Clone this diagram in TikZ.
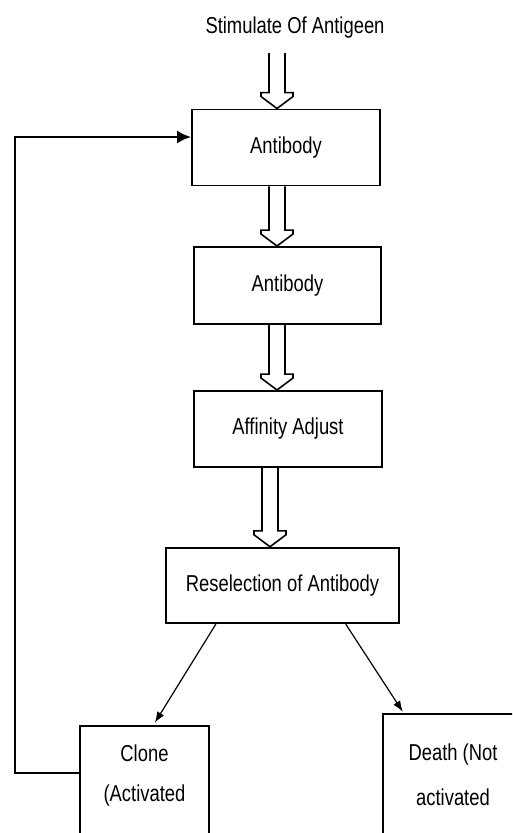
\documentclass[tikz,border=0pt]{standalone}
\usepackage{fontspec}
\setmainfont{Liberation Sans}[FakeStretch=0.8]
\usetikzlibrary{calc,arrows.meta}
\newcommand\hollowarr[3]{%
  \draw[hollow] ($(#1 -| #3)+(-8,0)$) -- ($(#2 -| #3)+(-8,-16)$) -- ($(#2 -| #3)+(-16,-16)$)
    -- ($(#2 -| #3)+(-16,-12)$) -- (#2 -| #3) -- ($(#2 -| #3)+(16,-12)$)
    -- ($(#2 -| #3)+(16,-16)$) -- ($(#2 -| #3)+(8,-16)$) -- ($(#1 -| #3)+(8,0)$);}
\begin{document}
\begin{tikzpicture}[x=1pt,y=-1pt,
  lbl/.style={font=\fontsize{23}{26}\selectfont, inner sep=0pt},
  box/.style={lbl, draw, line width=1.9pt, minimum width=188pt, minimum height=76pt},
  hollow/.style={line width=1.6pt, line join=miter},
  link/.style={line width=1.2pt, -{Latex[length=11pt,width=8pt]}},
  loopline/.style={line width=2.2pt, -{Latex[length=14pt,width=13pt]}},
  side/.style={line width=1.9pt}]
\useasboundingbox (0,0) rectangle (512,833);
\clip (0,0) rectangle (512,833);
\coordinate (ax) at (277,0);
\coordinate (bx) at (270,0);
\node[lbl] (title) at (295,28) {Stimulate Of Antigeen};
\coordinate (s0) at (277,53);
\node[box] (b1) at (286,147.5) {Antibody};
\node[box, minimum width=187pt, minimum height=77pt] (b2) at (287.5,285.5) {Antibody};
\node[box] (b3) at (288,429) {Affinity Adjust};
\node[box, minimum width=233pt, minimum height=75pt, line width=2.4pt] (b4) at (282.5,585.5) {Reselection of Antibody};
\node[lbl, minimum width=129pt, minimum height=100pt, align=center, font=\fontsize{23}{40}\selectfont] (clone) at (144.5,776) {Clone\\(Activated};
\node[lbl, minimum width=140pt, minimum height=121pt, align=center, font=\fontsize{23}{45}\selectfont] (death) at (453,774.5) {Death (Not\\activated};
\draw[side] ($(clone.south west)+(0,20)$) -- (clone.north west) -- (clone.north east) -- ($(clone.south east)+(0,20)$);
\draw[side] ($(death.south west)+(0,20)$) -- (death.north west) -- (death.north east) -- ($(death.south east)+(0,20)$);
\hollowarr{s0}{b1.north}{ax}
\hollowarr{b1.south}{b2.north}{ax}
\hollowarr{b2.south}{b3.north}{ax}
\hollowarr{b3.south}{b4.north}{bx}
\draw[link] ($(b4.south west)+(51,0)$) -- ($(clone.north west)+(75,-3)$);
\draw[link] ($(b4.south west)+(181,0)$) -- ($(death.north west)+(20,-2)$);
\coordinate (lp) at (15,137);
\draw[loopline] ($(clone.north west)+(0,47)$) -| (lp) -- ($(b1.west)+(0,-10.5)$);
\end{tikzpicture}
\end{document}
